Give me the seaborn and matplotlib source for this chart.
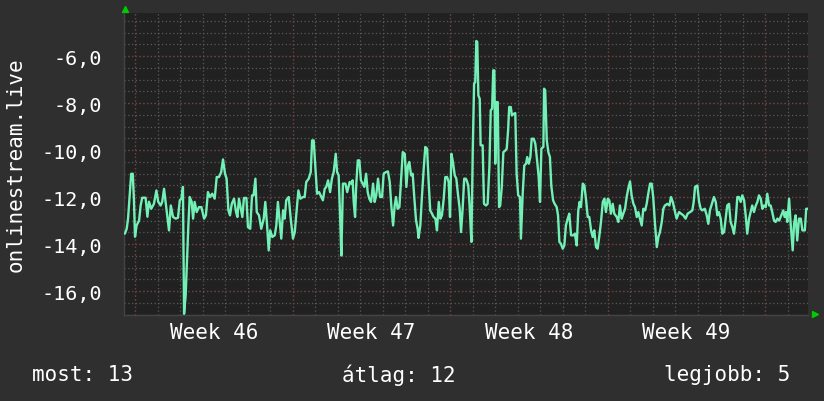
import numpy as np
import pandas as pd
import matplotlib
matplotlib.use("Agg")
import matplotlib.pyplot as plt
import seaborn as sns

# -------------------------
# Data (time in days from left edge of the graph, value in the graph unit)
# -------------------------
days = [
    0.04, 0.12, 0.18, 0.25, 0.32, 0.39, 0.44, 0.49, 0.56, 0.67, 0.74, 0.81, 0.96, 1.04, 1.11, 1.21,
    1.33, 1.44, 1.52, 1.63, 1.70, 1.78, 1.85, 1.92, 2.00, 2.08, 2.18, 2.30, 2.40, 2.48, 2.55, 2.62,
    2.67, 2.74, 2.81, 2.86, 2.92, 3.01, 3.07, 3.14, 3.23, 3.33, 3.44, 3.56, 3.64, 3.73, 3.82, 3.92,
    4.03, 4.12, 4.22, 4.32, 4.40, 4.49, 4.56, 4.64, 4.71, 4.79, 4.89, 4.98, 5.04,
    5.11, 5.19, 5.26, 5.33, 5.44, 5.51, 5.61, 5.69, 5.76, 5.84, 5.90, 6.00, 6.10, 6.21, 6.28, 6.36,
    6.43, 6.50, 6.59, 6.70, 6.77, 6.84, 6.92, 6.99, 7.07, 7.14, 7.21, 7.32, 7.41, 7.51, 7.59, 7.68,
    7.75, 7.84, 7.96, 8.03, 8.10, 8.21, 8.30, 8.36, 8.43, 8.50, 8.58, 8.67, 8.74, 8.84, 8.92, 8.99,
    9.07, 9.16, 9.24, 9.32, 9.41, 9.47, 9.54, 9.60, 9.66, 9.73, 9.84, 9.92, 10.03, 10.10,
    10.16, 10.21, 10.27, 10.32, 10.39, 10.46, 10.53, 10.61, 10.68, 10.76, 10.83, 10.90, 10.98, 11.07,
    11.14, 11.21, 11.29, 11.38, 11.47, 11.54, 11.64, 11.73, 11.81, 11.88, 11.96, 12.03, 12.09, 12.16,
    12.24, 12.31, 12.39, 12.48, 12.55, 12.62, 12.68, 12.76, 12.83, 12.90, 12.98, 13.05, 13.09, 13.17,
    13.24, 13.32, 13.39, 13.47, 13.54, 13.61, 13.69, 13.76, 13.84, 13.91, 13.99, 14.06, 14.13, 14.21,
    14.28, 14.36, 14.43, 14.49, 14.55, 14.62, 14.70, 14.77, 14.84, 14.92, 14.98, 15.05, 15.12, 15.19,
    15.23, 15.30, 15.36, 15.44, 15.50, 15.56, 15.61, 15.66, 15.70, 15.75, 15.81, 15.85, 15.94, 16.00,
    16.09, 16.16, 16.24, 16.30, 16.36, 16.41, 16.46, 16.50, 16.56, 16.61, 16.67, 16.72, 16.79, 16.86,
    16.95, 17.01, 17.07, 17.12, 17.19, 17.24, 17.32, 17.39, 17.45, 17.52, 17.60, 17.64, 17.72, 17.79,
    17.87, 17.92, 17.99, 18.06, 18.12, 18.21, 18.28, 18.36, 18.43, 18.49, 18.55, 18.64, 18.67, 18.72,
    18.79, 18.86, 18.93, 18.99, 19.07, 19.14, 19.23, 19.29, 19.35, 19.42, 19.50, 19.57, 19.64, 19.72,
    19.79, 19.87, 19.97, 20.04, 20.12, 20.19, 20.25,
    20.31, 20.39, 20.46, 20.53, 20.61, 20.68, 20.76, 20.83, 20.90, 20.98, 21.05, 21.12, 21.20, 21.28,
    21.35, 21.42, 21.50, 21.57, 21.64, 21.72, 21.79, 21.90, 21.97, 22.04, 22.12, 22.19, 22.27, 22.34,
    22.41, 22.49, 22.56, 22.64, 22.71, 22.79, 22.86, 22.93, 23.01, 23.08, 23.16, 23.23, 23.30, 23.38,
    23.45, 23.52, 23.60, 23.68, 23.75, 23.82, 23.90, 23.97, 24.04, 24.15, 24.24, 24.31, 24.39, 24.46,
    24.56, 24.67, 24.76, 24.86, 24.96, 25.05, 25.16, 25.26, 25.32,
    25.38, 25.48, 25.56, 25.63, 25.70, 25.81, 25.90, 25.97, 26.04, 26.13, 26.22, 26.30, 26.37, 26.44,
    26.52, 26.59, 26.67, 26.74, 26.81, 26.89, 26.96, 27.04, 27.11, 27.19, 27.26, 27.33, 27.41, 27.48,
    27.56, 27.63, 27.70, 27.78, 27.85, 27.92, 28.00, 28.08, 28.15, 28.22, 28.30, 28.37, 28.44, 28.52,
    28.59, 28.67, 28.74, 28.81, 28.89, 28.96, 29.04, 29.12, 29.21, 29.30, 29.36, 29.42, 29.48, 29.56,
    29.63, 29.72, 29.78, 29.85, 29.92, 30.00, 30.08, 30.15, 30.26, 30.32, 30.39,
]
values = [
    -13.56, -13.35, -12.92, -11.93, -11.01, -11.01, -12.07, -13.69, -13.21, -13.00, -12.36, -12.03, -12.03, -12.84, -12.20, -12.50,
    -12.29, -11.72, -12.20, -12.36, -12.20, -11.65, -12.20, -12.78, -13.42, -12.36, -12.85, -12.92, -12.88, -12.14, -12.07, -11.57,
    -16.97, -16.19, -14.49, -13.21, -12.00, -12.21, -12.92, -12.21, -12.64, -12.43, -12.43, -12.92, -12.78, -11.79, -12.00, -11.86,
    -12.07, -11.15, -11.15, -10.94, -10.40, -11.01, -11.22, -12.57, -12.78, -12.29, -12.07, -12.64, -12.85,
    -12.07, -12.50, -12.85, -12.04, -12.04, -13.28, -13.35, -11.93, -11.93, -11.22, -12.64, -12.78, -13.35, -12.92, -12.21, -13.21,
    -14.27, -13.42, -13.70, -13.63, -13.21, -12.21, -13.06, -13.77, -12.57, -12.92, -12.14, -12.00, -12.92, -13.77, -13.49, -12.50,
    -11.72, -12.07, -12.00, -12.00, -11.36, -11.22, -10.94, -9.59, -9.59, -10.66, -11.86, -11.79, -11.93, -12.14, -11.65, -11.57,
    -11.29, -11.79, -11.22, -10.94, -10.16, -10.94, -11.08, -12.71, -14.49, -11.43, -11.43, -11.79, -11.36, -11.43,
    -11.29, -12.21, -12.85, -11.51, -10.44, -10.44, -11.29, -11.43, -11.57, -11.01, -11.79, -12.07, -12.21, -11.43,
    -12.21, -11.93, -11.22, -12.00, -12.00, -11.01, -10.94, -10.91, -11.36, -12.36, -13.21, -12.36, -12.00, -12.50,
    -12.43, -11.36, -10.09, -10.16, -11.57, -10.66, -10.51, -11.08, -11.01, -12.00, -13.00, -13.35, -13.74, -13.21,
    -12.00, -10.80, -9.87, -9.94, -11.36, -12.57, -12.71, -12.85, -12.92, -13.42, -12.21, -12.92, -12.78, -12.07,
    -11.15, -11.15, -11.36, -12.85, -10.16, -10.51, -11.08, -11.22, -11.86, -12.50, -13.49, -12.50, -11.22, -11.22,
    -11.29, -11.51, -12.36, -13.91, -10.02, -7.18, -7.11, -5.36, -5.40, -7.68, -7.82, -9.80, -9.80, -12.29,
    -12.36, -12.29, -10.72, -8.31, -8.24, -6.61, -6.61, -10.58, -7.96, -7.96, -12.43, -12.36, -11.57, -10.09,
    -10.02, -9.94, -9.17, -8.17, -8.17, -8.53, -8.46, -8.43, -11.01, -11.93, -12.00, -13.77, -11.86, -10.66,
    -10.58, -10.30, -10.58, -10.30, -9.52, -9.52, -9.73, -10.44, -11.15, -12.21, -9.94, -9.87, -7.39, -7.46,
    -9.59, -10.09, -10.30, -11.51, -12.14, -12.29, -12.43, -12.78, -13.91, -13.99, -14.20, -14.06, -13.21, -12.92,
    -12.71, -13.63, -13.63, -13.56, -14.06, -12.57, -12.21,
    -12.43, -11.43, -11.51, -12.07, -12.85, -12.85, -13.42, -13.70, -13.42, -14.13, -14.20, -13.70, -13.06, -12.21,
    -12.07, -12.64, -12.07, -12.14, -12.71, -12.29, -12.71, -12.85, -13.06, -12.36, -12.92, -12.71, -12.50, -12.00,
    -11.65, -11.34, -11.93, -12.29, -12.43, -12.85, -12.64, -12.92, -13.21, -12.50, -12.57, -12.29, -11.86, -11.43,
    -11.43, -12.00, -13.14, -14.13, -13.70, -13.49, -13.06, -12.50, -12.36, -12.29, -12.36, -12.00, -12.21, -12.50,
    -12.92, -12.64, -12.71, -12.78, -12.92, -12.71, -12.64, -12.57, -12.21,
    -11.57, -11.51, -12.21, -12.50, -12.57, -12.50, -12.78, -13.14, -12.57, -12.29, -12.00, -12.21, -12.78, -12.64,
    -12.92, -13.56, -13.49, -12.92, -12.36, -12.29, -13.06, -13.28, -13.56, -12.92, -12.00, -12.00, -12.21, -11.93,
    -12.14, -12.78, -13.56, -12.92, -12.64, -12.36, -12.64, -12.36, -12.21, -11.93, -12.07, -12.50, -12.36, -12.43,
    -11.86, -12.36, -12.36, -12.64, -13.00, -13.06, -12.92, -13.00, -12.78, -12.57, -12.85, -12.64, -13.06, -12.07,
    -13.14, -14.27, -13.14, -12.78, -13.85, -12.92, -12.92, -13.42, -13.42, -12.50, -12.50,
]

week_centers = [4.0, 11.0, 18.0, 25.0]
week_labels = ['Week 46', 'Week 47', 'Week 48', 'Week 49']
week_bounds = [0.5, 7.5, 14.5, 21.5, 28.5]
y_ticks = [-16, -14, -12, -10, -8, -6]
y_tick_labels = ['-16,0', '-14,0', '-12,0', '-10,0', '-8,0', '-6,0']
series_name = 'onlinestream.live'
summary = {'most': '13', 'átlag': '12', 'legjobb': '5'}

df = pd.DataFrame({'day': days, 'value': values})

# -------------------------
# Style
# -------------------------
sns.set_style('dark')
plt.rcParams['font.family'] = ['DejaVu Sans Mono', 'DejaVu Sans']

FIG_BG = '#2f2f2f'
AX_BG = '#212121'
GRID_MINOR = '#5a5a5a'
GRID_MAJOR = '#733c3c'
LINE = '#72f0b6'
TEXT = '#ffffff'
ARROW = '#00cc00'

fig = plt.figure(figsize=(8.24, 4.02), dpi=100, facecolor=FIG_BG)
ax = fig.add_axes([124 / 824, 86 / 402, 684 / 824, 302 / 402])
ax.set_facecolor(AX_BG)

ax.set_xlim(0, 30.4)
ax.set_ylim(-17.02, -4.17)

# grid: minor dotted grey, major dotted red
for d in np.arange(0.5, 30.4, 1.0):
    ax.axvline(d, color=GRID_MINOR, lw=0.9, ls=(0, (1, 2)), zorder=0)
for yv in np.arange(-17.0, -4.17, 0.5):
    ax.axhline(yv, color=GRID_MINOR, lw=0.9, ls=(0, (1, 2)), zorder=0)
for d in week_bounds:
    ax.axvline(d, color=GRID_MAJOR, lw=0.9, ls=(0, (1, 2)), zorder=1)
for yv in y_ticks:
    ax.axhline(yv, color=GRID_MAJOR, lw=0.9, ls=(0, (1, 2)), zorder=1)

sns.lineplot(data=df, x='day', y='value', ax=ax, color=LINE, lw=1.7,
             estimator=None, sort=False, zorder=3)

ax.set_xticks(week_centers, week_labels)
ax.set_yticks(y_ticks, y_tick_labels)
ax.tick_params(axis='x', length=0, pad=5, labelsize=15, labelcolor=TEXT)
ax.tick_params(axis='y', length=0, pad=16, labelsize=14.5, labelcolor=TEXT)
ax.set_xlabel('')
ax.set_ylabel(series_name, color=TEXT, fontsize=15, va='center', ha='center')
ax.yaxis.set_label_coords(-0.159, 0.5)

for side in ['top', 'right']:
    ax.spines[side].set_visible(False)
for side in ['left', 'bottom']:
    ax.spines[side].set_color('#444444')
    ax.spines[side].set_linewidth(1.0)

# axis arrows
ax.plot([0.0015], [1.013], marker='^', ms=5, color=ARROW, transform=ax.transAxes, clip_on=False)
ax.plot([1.0102], [0.003], marker='>', ms=5, color=ARROW, transform=ax.transAxes, clip_on=False)

# legend line
fig.text(32 / 824, 27 / 402, f"most: {summary['most']}", color=TEXT, fontsize=15,
         ha='left', va='center')
fig.text(399 / 824, 27 / 402, f"átlag: {summary['átlag']}", color=TEXT, fontsize=15,
         ha='center', va='center')
fig.text(790 / 824, 27 / 402, f"legjobb: {summary['legjobb']}", color=TEXT, fontsize=15,
         ha='right', va='center')

fig.savefig('out.png', dpi=100, facecolor=FIG_BG)
